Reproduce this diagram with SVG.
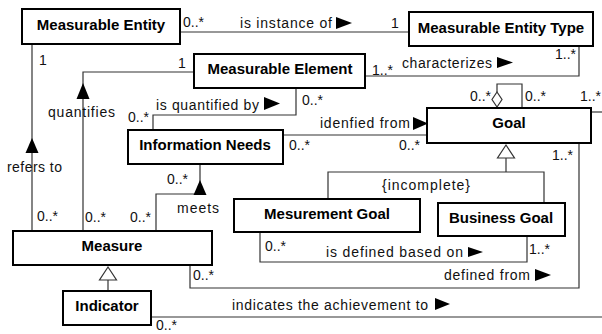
<svg xmlns="http://www.w3.org/2000/svg" width="602" height="334" viewBox="0 0 602 334">
<style>
.box{fill:#fff;stroke:#000;stroke-width:2}
.nt{font-family:"Liberation Sans",Arial,sans-serif;font-size:15px;font-weight:bold;text-anchor:middle;fill:#000}
.lb{font-family:"Liberation Sans",Arial,sans-serif;font-size:14px;fill:#111}
.ln{fill:none;stroke:#333;stroke-width:1.2}
.fa{fill:#000}
.ha{fill:#fff;stroke:#333;stroke-width:1.2}
</style>
<rect width="602" height="334" fill="#fff"/>
<g id="connectors">
  <line class="ln" x1="180" y1="32" x2="408" y2="32"/>
  <line class="ln" x1="32" y1="44" x2="32" y2="230"/>
  <polygon class="fa" points="32,138 25.5,153 38.5,153"/>
  <polyline class="ln" points="193,72 83,72 83,230"/>
  <polygon class="fa" points="83,83 76.5,99 89.5,99"/>
  <polyline class="ln" points="366,76 579,76 579,46"/>
  <polyline class="ln" points="296,89 296,115 153,115 153,129"/>
  <line class="ln" x1="284" y1="135" x2="426" y2="135"/>
  <polyline class="ln" points="497,92 497,84 522,84 522,107"/>
  <polygon class="ha" points="497,92 502,99.5 497,107 492,99.5"/>
  <line class="ln" x1="592" y1="112" x2="602" y2="112"/>
  <polygon class="ha" points="506,145 497.5,158 514.5,158"/>
  <line class="ln" x1="506" y1="158" x2="506" y2="172"/>
  <polyline class="ln" points="328,198 328,172 544,172 544,202"/>
  <polyline class="ln" points="200,165 200,194 156,194 156,230"/>
  <polygon class="fa" points="200,180 193.5,195 206.5,195"/>
  <polyline class="ln" points="260,233 260,262 527,262 527,237"/>
  <polyline class="ln" points="190,266 190,288 579,288 579,144"/>
  <polygon class="ha" points="108,267 99.5,280 116.5,280"/>
  <line class="ln" x1="108" y1="280" x2="108" y2="290"/>
  <line class="ln" x1="152" y1="317" x2="602" y2="317"/>
</g>
<g id="labels">
  <text class="lb" x="183" y="27">0..*</text>
  <text class="lb" x="240" y="28" textLength="92" lengthAdjust="spacing">is instance of</text>
  <polygon class="fa" points="336,17 352,23 336,29"/>
  <text class="lb" x="391" y="28">1</text>
  <text class="lb" x="39" y="65">1</text>
  <text class="lb" x="178" y="68">1</text>
  <text class="lb" x="48" y="117" textLength="67" lengthAdjust="spacing">quantifies</text>
  <text class="lb" x="156" y="110" textLength="103" lengthAdjust="spacing">is quantified by</text>
  <polygon class="fa" points="264,97 280,103.5 264,110"/>
  <text class="lb" x="302" y="105">0..*</text>
  <text class="lb" x="128" y="122">0..*</text>
  <text class="lb" x="7" y="172" textLength="55" lengthAdjust="spacing">refers to</text>
  <text class="lb" x="372" y="75">1..*</text>
  <text class="lb" x="402" y="68" textLength="90" lengthAdjust="spacing">characterizes</text>
  <polygon class="fa" points="497,57 513,62.5 497,68"/>
  <text class="lb" x="555" y="59">1..*</text>
  <text class="lb" x="320" y="128" textLength="90" lengthAdjust="spacing">idenfied from</text>
  <polygon class="fa" points="413,117 428,123.5 413,130"/>
  <text class="lb" x="289" y="150">0..*</text>
  <text class="lb" x="399" y="150">0..*</text>
  <text class="lb" x="470" y="101">0..*</text>
  <text class="lb" x="525" y="101">0..*</text>
  <text class="lb" x="580" y="101">1..*</text>
  <text class="lb" x="552" y="160">1..*</text>
  <text class="lb" x="382" y="190" textLength="88" lengthAdjust="spacing">{incomplete}</text>
  <text class="lb" x="167" y="184">0..*</text>
  <text class="lb" x="177" y="213" textLength="42" lengthAdjust="spacing">meets</text>
  <text class="lb" x="37" y="221">0..*</text>
  <text class="lb" x="85" y="222">0..*</text>
  <text class="lb" x="130" y="222">0..*</text>
  <text class="lb" x="265" y="251">0..*</text>
  <text class="lb" x="326" y="257" textLength="137" lengthAdjust="spacing">is defined based on</text>
  <polygon class="fa" points="468,247 483,252 468,257"/>
  <text class="lb" x="529" y="254">1..*</text>
  <text class="lb" x="193" y="280">0..*</text>
  <text class="lb" x="444" y="280" textLength="86" lengthAdjust="spacing">defined from</text>
  <polygon class="fa" points="535,269 551,275 535,281"/>
  <text class="lb" x="232" y="310" textLength="196" lengthAdjust="spacing">indicates the achievement to</text>
  <polygon class="fa" points="435,298 450,304 435,310"/>
  <text class="lb" x="156" y="330">0..*</text>
</g>
<g id="measurable-entity"><rect class="box" x="22" y="9" width="158" height="35"/><text class="nt" x="101" y="30">Measurable Entity</text></g>
<g id="measurable-entity-type"><rect class="box" x="409" y="12" width="184" height="34"/><text class="nt" x="501" y="33">Measurable Entity Type</text></g>
<g id="measurable-element"><rect class="box" x="194" y="54" width="171" height="34"/><text class="nt" x="280" y="74">Measurable Element</text></g>
<g id="information-needs"><rect class="box" x="128" y="130" width="155" height="34"/><text class="nt" x="205" y="150">Information Needs</text></g>
<g id="goal"><rect class="box" x="427" y="108" width="164" height="35"/><text class="nt" x="509" y="128">Goal</text></g>
<g id="mesurement-goal"><rect class="box" x="234" y="199" width="186" height="33"/><text class="nt" x="327" y="219">Mesurement Goal</text></g>
<g id="business-goal"><rect class="box" x="438" y="203" width="127" height="33"/><text class="nt" x="501" y="223">Business Goal</text></g>
<g id="measure"><rect class="box" x="13" y="231" width="199" height="34"/><text class="nt" x="112" y="251">Measure</text></g>
<g id="indicator"><rect class="box" x="63" y="291" width="88" height="34"/><text class="nt" x="107" y="311">Indicator</text></g>
</svg>
